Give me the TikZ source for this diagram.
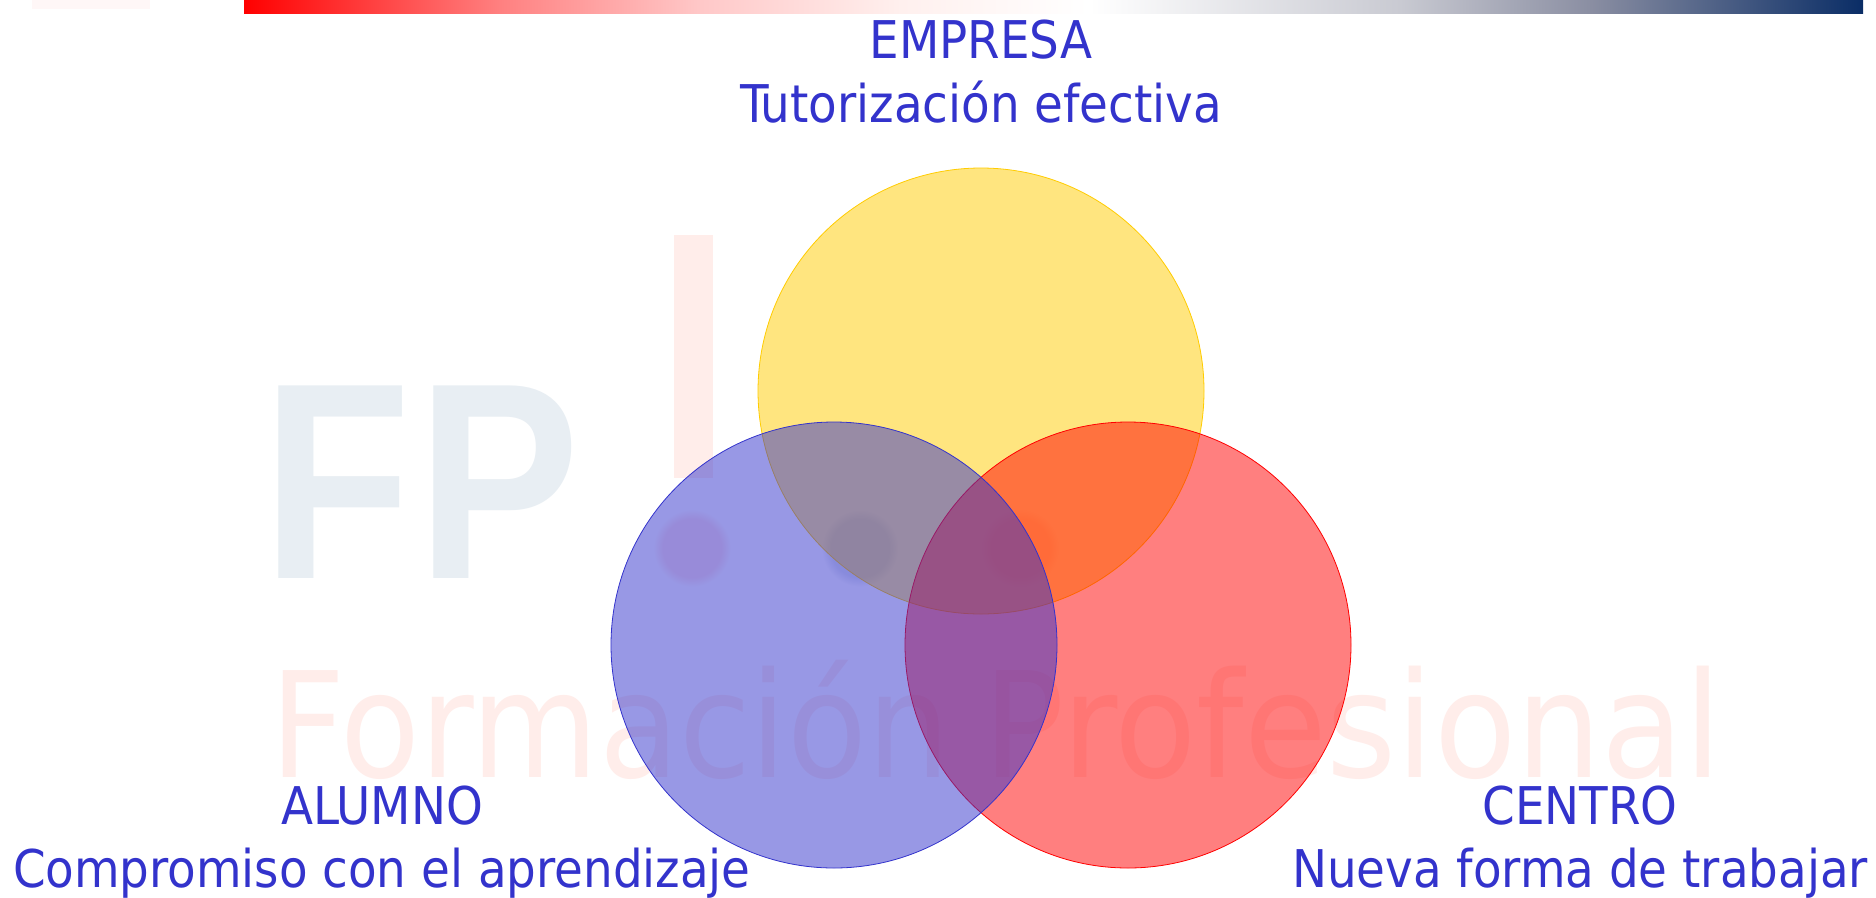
\documentclass[tikz,border=0pt]{standalone}
\usepackage{fontspec}
\setmainfont{DejaVu Sans}
\newfontfamily\wmfont{Liberation Sans}
\newfontfamily\condfont{DejaVu Sans Condensed}
\definecolor{labelblue}{HTML}{3333CC}
\definecolor{wmred}{HTML}{FFEDEA}
\definecolor{wmblue}{HTML}{E8EEF3}
\definecolor{dotred}{HTML}{FFE5E7}
\definecolor{dotblue}{HTML}{DFE4EE}
\definecolor{palemark}{HTML}{FFF7F7}
\definecolor{sunny}{HTML}{FFCC00}
\definecolor{barA}{HTML}{FF8080}
\definecolor{barB}{HTML}{FFC8C8}
\definecolor{barC}{HTML}{FFF0EE}
\definecolor{barD}{HTML}{C9CAD2}
\definecolor{barE}{HTML}{8A8EA2}
\definecolor{barF}{HTML}{0A2D66}
\pgfdeclarehorizontalshading{barshade}{100bp}{color(0bp)=(red);color(25bp)=(red);color(32.9bp)=(barA);color(39.1bp)=(barB);color(45.3bp)=(barC);color(51.1bp)=(white);color(60.7bp)=(barD);color(66.6bp)=(barE);color(75bp)=(barF);color(100bp)=(barF)}
\pgfdeclareradialshading{softred}{\pgfpointorigin}{color(0bp)=(dotred);color(19bp)=(dotred);color(25bp)=(white);color(50bp)=(white)}
\pgfdeclareradialshading{softblue}{\pgfpointorigin}{color(0bp)=(dotblue);color(19bp)=(dotblue);color(25bp)=(white);color(50bp)=(white)}
\tikzset{
  venn/.style={circle,minimum size=334.5pt,inner sep=0pt,fill opacity=.5,line width=.6pt},
  vennyellow/.style={venn,draw=sunny,fill=sunny},
  vennred/.style={venn,draw=red,fill=red},
  vennblue/.style={venn,draw=labelblue,fill=labelblue},
  lab/.style={text=labelblue,font=\condfont\fontsize{39}{45}\selectfont,anchor=base,inner sep=0pt},
  wmdot/.style={circle,minimum size=58pt,inner sep=0pt,draw=none},
  wmword/.style={anchor=base west,inner sep=0pt,text=wmred,font=\fontsize{110}{110}\selectfont}
}
\begin{document}
\begin{tikzpicture}[x=0.75pt,y=-0.75pt]
\useasboundingbox (0,0) rectangle (1876,897);
\fill[white] (0,0) rectangle (1876,897);
% top bar and faint mark
\fill[palemark] (32,0) rectangle (150,9);
\shade[shading=barshade] (244,0) rectangle (1863,13);
% watermark
\fill[wmred] (674,235) rectangle (713,478);
\node[anchor=base west,inner sep=0pt,text=wmblue,xscale=.87,font=\wmfont\bfseries\fontsize{210}{210}\selectfont] (fp) at (262,578) {F\kern 6pt P};
\node[wmword,xscale=.89] (fpro) at (270,777) {Formación};
\node[wmword,xscale=.917] (fprof) at (983,777) {Profesional};
\node[wmdot,shading=softred] (d1) at (692,548) {};
\node[wmdot,shading=softblue] (d2) at (860,548) {};
\node[wmdot,shading=softred] (d3) at (1020,548) {};
% venn
\node[vennyellow] (empresa) at (981,391) {};
\node[vennred] (centro) at (1128,645) {};
\node[vennblue] (alumno) at (834,645) {};
% labels
\node[lab] (t1) at (981,58) {EMPRESA};
\node[lab] (t2) at (981,122) {Tutorización efectiva};
\node[lab] (t3) at (382,824) {ALUMNO};
\node[lab] (t4) at (382,887) {Compromiso con el aprendizaje};
\node[lab] (t5) at (1580,824) {CENTRO};
\node[lab] (t6) at (1580,887) {Nueva forma de trabajar};
\end{tikzpicture}
\end{document}
